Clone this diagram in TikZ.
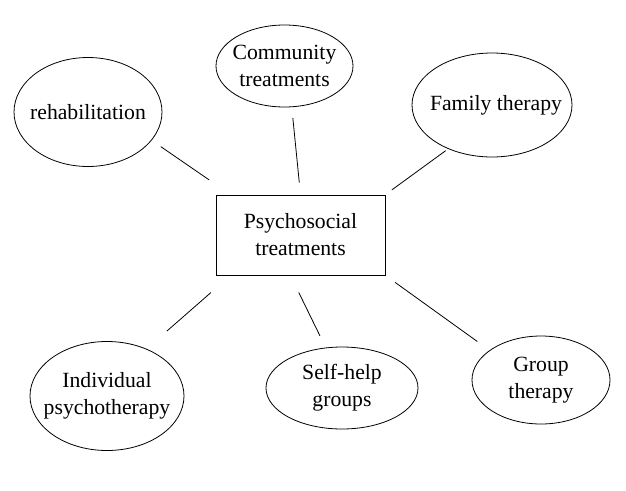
\documentclass[tikz,border=0pt]{standalone}
\usepackage{fontspec}
\setmainfont{Liberation Serif}
\usepackage{tikz}
\usetikzlibrary{shapes.geometric}

\begin{document}
\begin{tikzpicture}[
    x=1pt, y=-1pt,
    font=\fontsize{21.7}{27}\selectfont,
    box/.style={draw, align=center, minimum width=169pt, minimum height=80pt, inner sep=0pt},
    oval/.style={draw, ellipse, inner sep=0pt},
    txt/.style={align=center, inner sep=0pt},
    line/.style={line width=0.8pt}
]
\useasboundingbox (0,0) rectangle (626,490);

\node[box, line width=0.8pt] (psy) at (300.5,235) {};
\node[txt] (psytxt) at (psy) {Psychosocial\\treatments};

\node[oval, line width=0.8pt, minimum width=148pt, minimum height=109pt] (rehab) at (88,112) {};
\node[oval, line width=0.8pt, minimum width=137pt, minimum height=82pt] (comm) at (284.5,66) {};
\node[oval, line width=0.8pt, minimum width=160pt, minimum height=104pt] (fam) at (492,105) {};
\node[oval, line width=0.8pt, minimum width=154pt, minimum height=109pt] (indiv) at (107,396) {};
\node[oval, line width=0.8pt, minimum width=152pt, minimum height=82pt] (self) at (342,388) {};
\node[oval, line width=0.8pt, minimum width=138pt, minimum height=88pt] (grp) at (541,380) {};

\node[txt] (rehabtxt) at (rehab) {rehabilitation};
\node[txt] (commtxt) at (comm) {Community\\treatments};
\node[txt] (famtxt) at ([xshift=4pt]fam) {Family therapy};
\node[txt] (indivtxt) at (indiv) {Individual\\psychotherapy};
\node[txt] (selftxt) at (self) {Self-help\\groups};
\node[txt] (grptxt) at (grp) {Group\\therapy};

\draw[line, shorten <=11pt, shorten >=26pt] (rehab.-24) -- (psy.150);
\draw[line, shorten <=11pt, shorten >=12pt] (comm.-80) -- (psy.north);
\draw[line, shorten <=3pt, shorten >=8pt] (fam.225) -- (psy.north east);
\draw[line, shorten <=27pt, shorten >=26pt] (indiv.50) -- (psy.210);
\draw[line, shorten <=13pt, shorten >=19pt] (self.112) -- (psy.256);
\draw[line, shorten <=15pt, shorten >=12pt] (grp.150) -- (psy.south east);
\end{tikzpicture}
\end{document}
